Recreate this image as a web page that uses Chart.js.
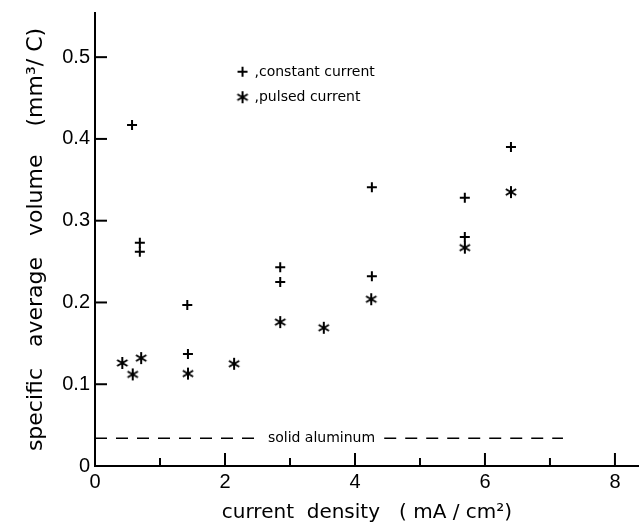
<!DOCTYPE html>
<html>
<head>
<meta charset="utf-8">
<script src="https://cdn.jsdelivr.net/npm/chart.js@4.4.1/dist/chart.umd.min.js"></script>
<style>
  html, body { margin: 0; padding: 0; background: #fff; }
</style>
</head>
<body>
<canvas id="chart" width="639" height="528"></canvas>
<script>
// values
const constantX = [0.57, 0.69, 0.69, 1.42, 1.43, 2.85, 2.85, 4.26, 4.26, 5.69, 5.69, 6.40];
const constantY = [0.417, 0.273, 0.262, 0.197, 0.137, 0.243, 0.225, 0.341, 0.232, 0.328, 0.280, 0.390];
const pulsedX = [0.42, 0.58, 0.71, 1.43, 2.14, 2.85, 3.52, 4.25, 5.69, 6.40];
const pulsedY = [0.126, 0.112, 0.132, 0.113, 0.125, 0.176, 0.169, 0.204, 0.267, 0.335];
const aluminumY = 0.034;
const aluminumLeftX = [0, 2.47];
const aluminumRightX = [4.45, 7.2];
const xTicks = [0, 1, 2, 3, 4, 5, 6, 7, 8];
const yTicks = [0, 0.1, 0.2, 0.3, 0.4, 0.5];
const seriesNames = [",constant current", ",pulsed current"];
const aluminumLabel = "solid aluminum";

// six-armed asterisk marker
function makeAsterisk() {
    const c = document.createElement("canvas");
    c.width = 14;
    c.height = 14;
    const g = c.getContext("2d");
    g.strokeStyle = "#000";
    g.lineWidth = 2;
    [90, 30, 150].forEach(a => {
        const r = a * Math.PI / 180;
        g.beginPath();
        g.moveTo(7 - 6 * Math.cos(r), 7 - 6 * Math.sin(r));
        g.lineTo(7 + 6 * Math.cos(r), 7 + 6 * Math.sin(r));
        g.stroke();
    });
    return c;
}
const asterisk = makeAsterisk();

const toPoints = (xs, ys) => xs.map((x, i) => ({ x: x, y: ys[i] }));

const noPadding = s => {
    s.paddingTop = 0;
    s.paddingBottom = 0;
    s.paddingLeft = 0;
    s.paddingRight = 0;
};

const inkPlugin = {
    id: "ink",
    afterDraw(chart) {
        const ctx = chart.ctx;
        const xs = chart.scales.x;
        const ys = chart.scales.y;
        ctx.save();
        ctx.strokeStyle = "#000";
        ctx.fillStyle = "#000";
        ctx.lineWidth = 2;

        // inward ticks
        xs.ticks.forEach(t => {
            const px = xs.getPixelForValue(t.value);
            const len = t.value % 2 === 0 ? 13 : 8;
            ctx.beginPath();
            ctx.moveTo(px, ys.bottom);
            ctx.lineTo(px, ys.bottom - len);
            ctx.stroke();
        });
        ys.ticks.forEach(t => {
            if (t.value === 0) return;
            const py = ys.getPixelForValue(t.value);
            ctx.beginPath();
            ctx.moveTo(xs.left, py);
            ctx.lineTo(xs.left + 12, py);
            ctx.stroke();
        });

        // label on the dashed line
        ctx.font = '14px "DejaVu Sans"';
        ctx.textBaseline = "middle";
        ctx.fillText(aluminumLabel, xs.getPixelForValue(2.66), ys.getPixelForValue(aluminumY));

        // legend
        const lx = xs.getPixelForValue(2.27);
        const ly1 = ys.getPixelForValue(0.482);
        const ly2 = ys.getPixelForValue(0.451);
        ctx.beginPath();
        ctx.moveTo(lx - 5, ly1);
        ctx.lineTo(lx + 5, ly1);
        ctx.moveTo(lx, ly1 - 5);
        ctx.lineTo(lx, ly1 + 5);
        ctx.stroke();
        ctx.drawImage(asterisk, lx - 7, ly2 - 7);
        ctx.fillText(seriesNames[0], lx + 12, ly1);
        ctx.fillText(seriesNames[1], lx + 12, ly2);
        ctx.restore();
    }
};

new Chart(document.getElementById("chart"), {
    type: "scatter",
    data: {
        datasets: [
            {
                label: seriesNames[0],
                data: toPoints(constantX, constantY),
                pointStyle: "cross",
                pointRadius: 5,
                borderColor: "#000",
                borderWidth: 2
            },
            {
                label: seriesNames[1],
                data: toPoints(pulsedX, pulsedY),
                pointStyle: asterisk,
                borderColor: "#000"
            },
            {
                type: "line",
                data: toPoints(aluminumLeftX, [aluminumY, aluminumY]),
                borderColor: "#000",
                borderWidth: 1.5,
                borderDash: [12, 9],
                pointRadius: 0
            },
            {
                type: "line",
                data: toPoints(aluminumRightX, [aluminumY, aluminumY]),
                borderColor: "#000",
                borderWidth: 1.5,
                borderDash: [12, 9],
                pointRadius: 0
            }
        ]
    },
    options: {
        responsive: false,
        animation: false,
        layout: { autoPadding: false, padding: { top: 13, right: 0, left: 0, bottom: 0 } },
        plugins: {
            legend: { display: false },
            tooltip: { enabled: false }
        },
        scales: {
            x: {
                type: "linear",
                min: 0,
                max: 8.37,
                afterBuildTicks: s => { s.ticks = xTicks.map(v => ({ value: v })); },
                afterFit: s => { s.height = 62; noPadding(s); },
                grid: { display: false, drawTicks: false },
                border: { color: "#000", width: 2 },
                ticks: {
                    color: "#000",
                    padding: 4,
                    font: { family: "Liberation Sans", size: 20 },
                    callback: v => (v % 2 === 0 ? String(v) : "")
                },
                title: {
                    display: true,
                    text: "current  density   ( mA / cm\u00b2)",
                    color: "#000",
                    font: { family: "DejaVu Sans", size: 20 },
                    padding: { bottom: 3 }
                }
            },
            y: {
                type: "linear",
                min: 0,
                max: 0.554,
                afterBuildTicks: s => { s.ticks = yTicks.map(v => ({ value: v })); },
                afterFit: s => { s.width = 95; noPadding(s); },
                grid: { display: false, drawTicks: false },
                border: { color: "#000", width: 2 },
                ticks: {
                    color: "#000",
                    padding: 5,
                    font: { family: "Liberation Sans", size: 20 },
                    callback: v => (v === 0 ? "0" : v.toFixed(1))
                },
                title: {
                    display: true,
                    text: "specific   average   volume    (mm\u00b3/ C)",
                    color: "#000",
                    font: { family: "DejaVu Sans", size: 22 },
                    padding: { top: 23 }
                }
            }
        }
    },
    plugins: [inkPlugin]
});
</script>
</body>
</html>
